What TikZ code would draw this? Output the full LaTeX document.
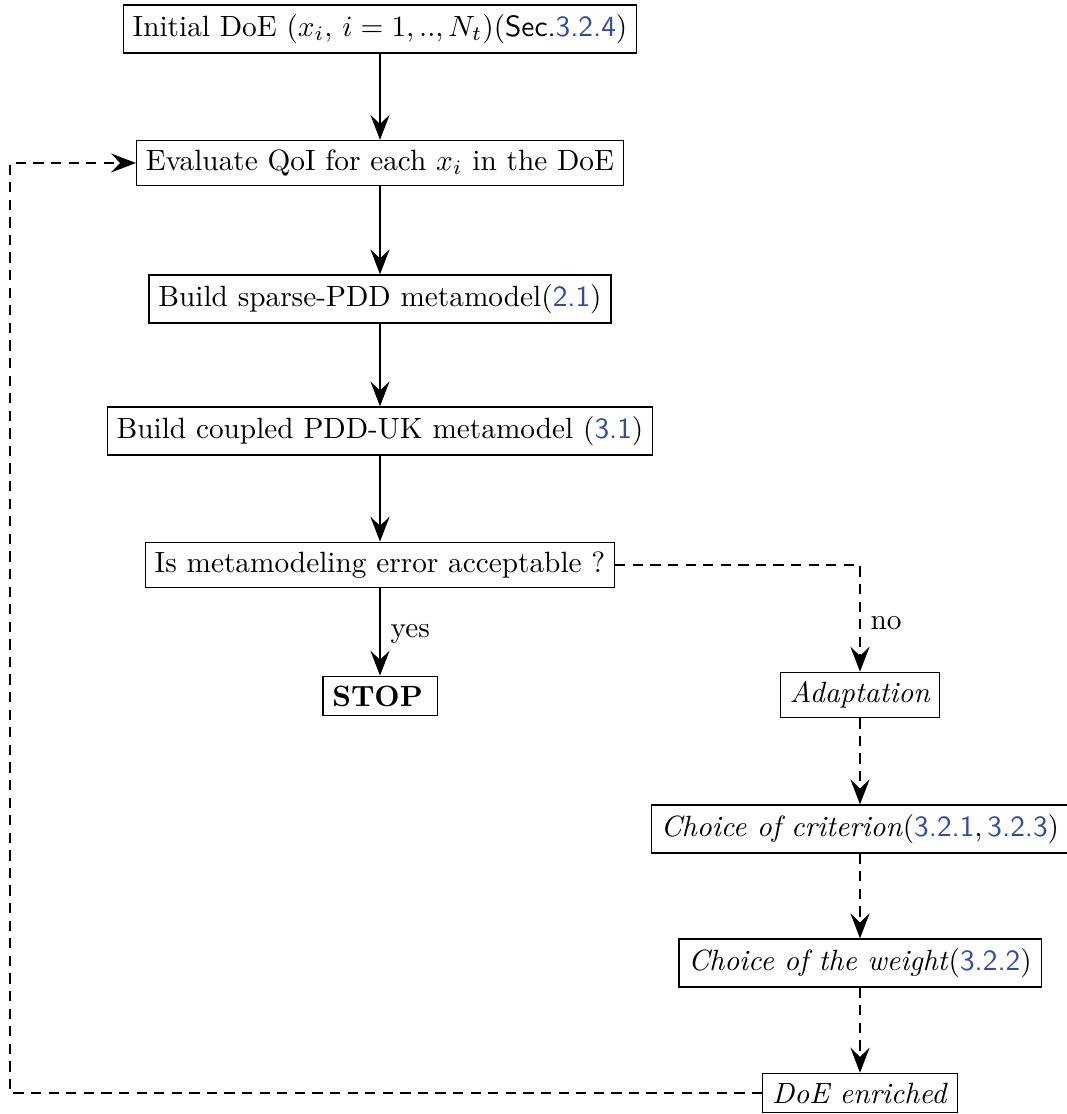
\documentclass[tikz,border=0pt]{standalone}
\usepackage{xcolor}
\usetikzlibrary{arrows.meta}
\definecolor{refblue}{RGB}{50,75,165}
\newcommand{\secref}[1]{\textsf{\color{refblue}#1}}

\begin{document}
\begin{tikzpicture}[x=0.012cm, y=-0.012cm, >={Stealth[length=3mm, width=2.3mm, inset=1.1mm]}]
  \useasboundingbox (0,0) rectangle (1067,1114);
  % Boxes
  \begin{scope}[every node/.style={draw, fill=white, inner sep=3.2pt}]
    \node (init) at (380,29) {Initial DoE $(x_i,\, i=1,..,N_t)$(\textsf{Sec.}\secref{3.2.4})};
    \node (eval) at (380,163) {Evaluate QoI for each $x_i$ in the DoE};
    \node (sparse) at (380,299) {Build sparse-PDD metamodel(\secref{2.1})};
    \node (coupled) at (380,431) {Build coupled PDD-UK metamodel (\secref{3.1})};
    \node (test) at (380,565) {Is metamodeling error acceptable ?};
    \node (stop) at (380,696) {\textbf{STOP}\,};

    \node (adapt) at (860,695) {\textit{Adaptation}};
    \node (crit) at (860,829) {\textit{Choice of criterion}(\secref{3.2.1},\,\secref{3.2.3})};
    \node (weight) at (860,963) {\textit{Choice of the weight}(\secref{3.2.2})};
    \node (enriched) at (860,1093) {\textit{DoE enriched}};
  \end{scope}
  \coordinate (loop) at (10,163);

  % Main chain
  \begin{scope}[line width=0.6pt, dash pattern=on 3.5pt off 2.5pt]
    \draw[->, solid] (init) edge (eval);
    \draw[->, solid] (eval) edge (sparse);
    \draw[->, solid] (sparse) edge (coupled);
    \draw[->, solid] (coupled) edge (test);
    \draw[->, solid] (test) edge node[right, pos=0.52] {yes} (stop);

    % Adaptation loop
    \draw[->] (test) -| node[right, pos=0.77] {no} (adapt);
    \draw[->] (adapt) edge (crit);
    \draw[->] (crit) edge (weight);
    \draw[->] (weight) edge (enriched);
    \draw[->] (enriched) -| (loop) -- (eval);
  \end{scope}
\end{tikzpicture}
\end{document}
